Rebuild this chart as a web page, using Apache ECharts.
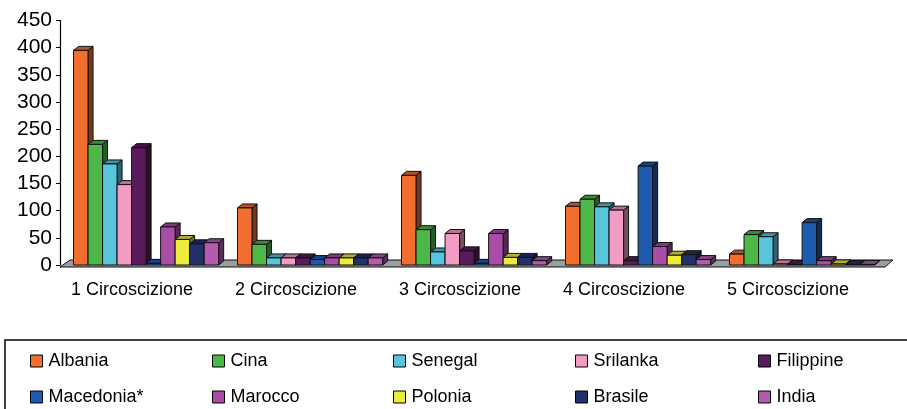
<!DOCTYPE html>
<html><head><meta charset="utf-8">
<script src="https://cdn.jsdelivr.net/npm/echarts/dist/echarts.min.js"></script>
<style>html,body{margin:0;padding:0;background:#fff}#c{width:907px;height:409px}</style>
</head><body><div id="c"></div>
<script>
const categories = ['1 Circoscizione', '2 Circoscizione', '3 Circoscizione', '4 Circoscizione', '5 Circoscizione'];
const countries = ['Albania', 'Cina', 'Senegal', 'Srilanka', 'Filippine', 'Macedonia*', 'Marocco', 'Polonia', 'Brasile', 'India'];
const albania   = [395, 105, 165, 108, 20];
const cina      = [222, 38, 65, 121, 56];
const senegal   = [186, 13, 24, 107, 52];
const srilanka  = [148, 13, 58, 101, 2];
const filippine = [216, 13, 26, 8, 1];
const macedonia = [3, 10, 3, 182, 78];
const marocco   = [70, 13, 58, 34, 8];
const polonia   = [47, 13, 14, 18, 2];
const brasile   = [39, 13, 14, 19, 1];
const india     = [41, 13, 8, 10, 1];
const yTickMin = 0, yTickMax = 450, yTickStep = 50;
const seriesValues = [albania, cina, senegal, srilanka, filippine, macedonia, marocco, polonia, brasile, india];
const colors = ['#F26E2E', '#4DB848', '#57C5DC', '#F29CC4', '#5A1B5C', '#1E5AAE', '#A94DA6', '#EDEB3C', '#24306A', '#B25BB0'];

function shade(hex, f) {
  const n = parseInt(hex.slice(1), 16);
  const r = Math.round(((n >> 16) & 255) * f), g = Math.round(((n >> 8) & 255) * f), b = Math.round((n & 255) * f);
  return 'rgb(' + r + ',' + g + ',' + b + ')';
}
const N = countries.length;
function makeRender(i, color) {
  const side = shade(color, 0.5), topc = shade(color, 0.75);
  return function (params, api) {
    const cat = api.value(0), v = api.value(1);
    const base = api.coord([cat, 0]);
    const top = api.coord([cat, v]);
    const band = api.size([1, 0])[0];
    const gw = band * 0.885, bw = gw / N;
    const x0 = base[0] - gw / 2 + band * 0.025 + i * bw, x1 = x0 + bw;
    const yb = base[1], yt = top[1];
    const dx = 5, dy = -4;
    const st = { stroke: '#111', lineWidth: 1 };
    return { type: 'group', children: [
      { type: 'polygon', shape: { points: [[x1, yb], [x1 + dx, yb + dy], [x1 + dx, yt + dy], [x1, yt]] }, style: Object.assign({ fill: side }, st) },
      { type: 'polygon', shape: { points: [[x0, yt], [x0 + dx, yt + dy], [x1 + dx, yt + dy], [x1, yt]] }, style: Object.assign({ fill: topc }, st) },
      { type: 'rect', shape: { x: x0, y: yt, width: bw, height: yb - yt }, style: Object.assign({ fill: color }, st) }
    ] };
  };
}
const floorSeries = {
  type: 'custom', name: 'floor', silent: true, z: 1,
  data: [[0, 0]],
  renderItem: function (params, api) {
    const cs = params.coordSys;
    const fy = cs.y + cs.height + 2;
    return { type: 'polygon', shape: { points: [[cs.x, fy], [cs.x + cs.width + 5, fy], [cs.x + cs.width + 13, fy - 7], [cs.x + 10, fy - 7]] },
      style: { fill: '#9AA0A0', stroke: '#111', lineWidth: 1 } };
  }
};
const barSeries = countries.map((name, i) => ({
  type: 'custom', name: name, z: 2,
  itemStyle: { color: colors[i] },
  data: seriesValues[i].map((v, k) => [k, v]),
  renderItem: makeRender(i, colors[i])
}));
const legendLefts = [30, 212, 393, 575, 758];
const legendTops = [352, 388];
const font = 'Liberation Sans, Arial, sans-serif';
const legends = countries.map((name, i) => ({
  orient: 'horizontal', left: legendLefts[i % 5], top: legendTops[Math.floor(i / 5)], padding: 0,
  itemWidth: 12, itemHeight: 12, icon: 'rect',
  data: [name], selectedMode: false,
  textStyle: { fontSize: 18, color: '#000', fontFamily: font, lineHeight: 18, padding: [0, 0, 0, 1] },
  itemStyle: { borderColor: '#000', borderWidth: 1 }
}));
const chart = echarts.init(document.getElementById('c'));
chart.setOption({
  animation: false,
  backgroundColor: '#fff',
  grid: { left: 60, right: 27, top: 20.5, bottom: 144 },
  xAxis: {
    type: 'category', data: categories,
    axisLine: { show: false }, axisTick: { show: false },
    axisLabel: { color: '#000', fontSize: 18, fontFamily: font, margin: 16, padding: [0, 20, 0, 0] }
  },
  yAxis: {
    type: 'value', min: yTickMin, max: yTickMax, interval: yTickStep,
    axisLine: { show: true, lineStyle: { color: '#000', width: 1.2 } },
    axisTick: { show: true, inside: false, length: 4, lineStyle: { color: '#000' } },
    splitLine: { show: false },
    axisLabel: { color: '#000', fontSize: 21, fontFamily: font, margin: 8 }
  },
  legend: legends,
  graphic: [{ type: 'rect', shape: { x: 5, y: 340, width: 920, height: 100 }, style: { fill: 'none', stroke: '#000', lineWidth: 1.5 } }],
  series: [floorSeries].concat(barSeries)
});
</script></body></html>
